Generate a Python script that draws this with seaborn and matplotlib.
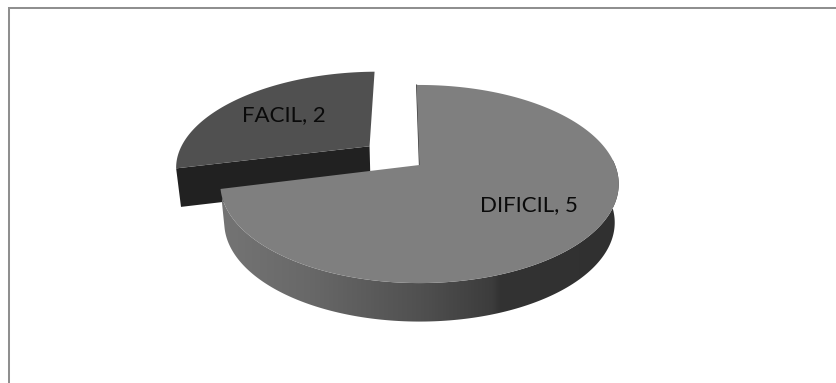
import numpy as np
import matplotlib
matplotlib.use("Agg")
import matplotlib.pyplot as plt
from matplotlib.colors import LinearSegmentedColormap
from matplotlib.patches import Polygon
import seaborn as sns

categories = ["DIFICIL", "FACIL"]
values = [5, 2]

W, H = 837, 383
sns.set_theme(style="white")
plt.rcParams["font.family"] = ["Lato", "DejaVu Sans"]

fig = plt.figure(figsize=(W / 100, H / 100), dpi=100)
ax = fig.add_axes([0, 0, 1, 1])
ax.set_xlim(0, W)
ax.set_ylim(H, 0)
ax.axis("off")

# Perspective view of the pie disc
CX, CY = 419.5, 165.0
K = 0.192
SX, SY = 195.5, 95.4
DEPTH = 38.5
LOWER_SCALE = 0.98
FIRST_ANGLE = -1.0
EXPLOSION = 0.335


def project(u, v, du=0.0, dv=0.0):
    u, v = u + du, v + dv
    w = 1 + K * v
    return CX + SX * u / w, CY - SY * v / w


def lower(x, y):
    return CX + (np.asarray(x) - CX) * LOWER_SCALE, np.asarray(y) + DEPTH


def rim(a0, a1, du=0.0, dv=0.0, n=300):
    t = np.radians(np.linspace(a0, a1, n))
    return project(np.sin(t), np.cos(t), du, dv)


shares = np.array(values, dtype=float) / sum(values) * 360
ends = FIRST_ANGLE + np.cumsum(shares)
starts = ends - shares

# The second slice is pulled out along its bisector
mid = np.radians((starts[1] + ends[1]) / 2)
DU, DV = EXPLOSION * np.sin(mid), EXPLOSION * np.cos(mid)

# Pulled-out slice: front cut wall, then the top face
ax0, ay0 = project(0, 0, DU, DV)
ex, ey = project(np.sin(np.radians(starts[1])), np.cos(np.radians(starts[1])), DU, DV)
lx, ly = lower([ax0, ex], [ay0, ey])
ax.fill([ax0, ex, lx[1], lx[0]], [ay0, ey, ly[1], ly[0]], color="#212121", lw=0, zorder=2)
x, y = rim(starts[1], ends[1], DU, DV)
ax.fill(np.r_[ax0, x], np.r_[ay0, y], color="#505050", lw=0, zorder=3)

# Main slice: shaded outer wall
x, y = rim(70, ends[0])
bx, by = lower(x, y)
wall = Polygon(np.c_[np.r_[x, bx[::-1]], np.r_[y, by[::-1]]], closed=True,
               transform=ax.transData, facecolor="none", edgecolor="none")
ax.add_patch(wall)
wall_shade = LinearSegmentedColormap.from_list(
    "wall",
    [(0.00, "#747474"), (0.22, "#686868"), (0.50, "#505050"), (0.68, "#3c3c3c"),
     (0.70, "#333333"), (1.00, "#303030")],
)
img = ax.imshow(np.linspace(0, 1, 400)[None, :], cmap=wall_shade, vmin=0, vmax=1,
                extent=(222, 620, 340, 160), aspect="auto", zorder=6,
                interpolation="bilinear")
img.set_clip_path(wall)
ax.set_xlim(0, W)
ax.set_ylim(H, 0)

# Main slice: top face and the thin dark edge along its cut
ax1, ay1 = project(0, 0)
x, y = rim(starts[0], ends[0])
ax.fill(np.r_[ax1, x], np.r_[ay1, y], color="#7f7f7f", lw=0, zorder=7)
ax.plot([ax1, x[0]], [ay1, y[0]], color="#3a3a3a", lw=0.9, zorder=6.5)

ax.text(529, 205.5, f"{categories[0]}, {values[0]}", ha="center", va="center",
        fontsize=16, color="#0a0a0a", zorder=12)
ax.text(284, 115.5, f"{categories[1]}, {values[1]}", ha="center", va="center",
        fontsize=16, color="#0a0a0a", zorder=12)

# Chart frame: only the top and left edges fall inside the canvas
ax.plot([9.3, 9.3, W], [H, 8.3, 8.3], color="#8f8f8f", lw=1.45,
        solid_joinstyle="miter", zorder=1)

fig.savefig("out.png", dpi=100, facecolor="white")
